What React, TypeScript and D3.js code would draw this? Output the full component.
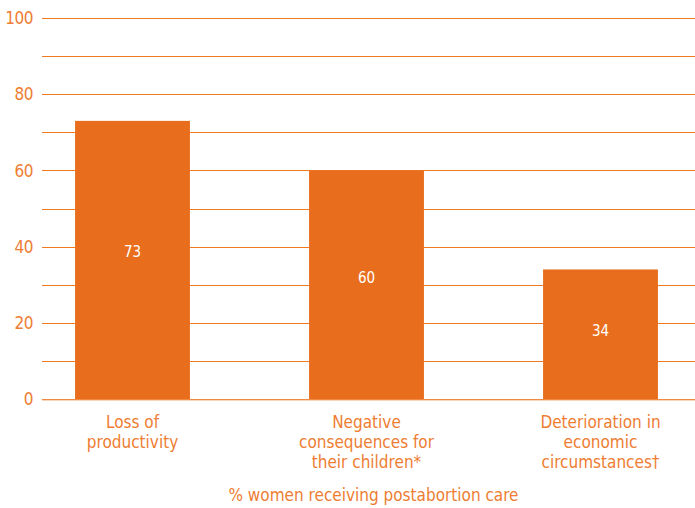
import { useEffect, useRef } from 'react';
import * as d3 from 'd3';

const categories = ['Loss of productivity', 'Negative consequences for their children*', 'Deterioration in economic circumstances†'];
const categoryLines = [
  ['Loss of', 'productivity'],
  ['Negative', 'consequences for', 'their children*'],
  ['Deterioration in', 'economic', 'circumstances†'],
];
const values = [73, 60, 34];
const tickValues = [0, 20, 40, 60, 80, 100];
const gridValues = d3.range(0, 101, 10);
const axisTitle = '% women receiving postabortion care';

const FONT = '"Liberation Sans Narrow", "DejaVu Sans Condensed", "Arial Narrow", sans-serif';
const BAR = '#e86e1e';
const TEXT = '#ee7d32';

const width = 695;
const height = 508;

const App = () => {
  const svgRef = useRef<SVGSVGElement>(null);

  useEffect(() => {
    if (!svgRef.current) return;
    const svg = d3.select(svgRef.current);
    svg.selectAll('*').remove();

    const left = 42;
    const y = d3.scaleLinear().domain([0, 100]).range([399, 18]);
    const x = d3.scaleBand<string>()
      .domain(categories)
      .range([15.5, 717.5])
      .paddingInner(0.509)
      .paddingOuter(0.2545);

    const g = svg.append('g');

    // grid lines
    g.selectAll('.grid')
      .data(gridValues.filter(v => v > 0))
      .enter()
      .append('line')
      .attr('x1', left)
      .attr('x2', width)
      .attr('y1', d => Math.round(y(d)) + 0.5)
      .attr('y2', d => Math.round(y(d)) + 0.5)
      .attr('stroke', '#f07a22')
      .attr('stroke-width', 1.2);

    // bars
    g.selectAll('.bar')
      .data(values)
      .enter()
      .append('rect')
      .attr('x', (d, i) => x(categories[i])!)
      .attr('y', d => y(d))
      .attr('width', x.bandwidth())
      .attr('height', d => y(0) - y(d))
      .attr('fill', BAR);

    // baseline: orange rule with a pale edge under it
    g.append('line')
      .attr('x1', left)
      .attr('x2', width)
      .attr('y1', y(0) + 0.5)
      .attr('y2', y(0) + 0.5)
      .attr('stroke', '#f08a42')
      .attr('stroke-width', 1);
    g.append('line')
      .attr('x1', left)
      .attr('x2', width)
      .attr('y1', y(0) + 1.5)
      .attr('y2', y(0) + 1.5)
      .attr('stroke', '#fad7bb')
      .attr('stroke-width', 1);

    // value labels
    g.selectAll('.val')
      .data(values)
      .enter()
      .append('text')
      .attr('x', (d, i) => x(categories[i])! + x.bandwidth() / 2)
      .attr('y', d => y(d * 0.53))
      .attr('dy', '0.36em')
      .attr('text-anchor', 'middle')
      .style('font-family', FONT)
      .style('font-size', '15px')
      .style('fill', '#ffffff')
      .text(d => d);

    // y tick labels
    g.selectAll('.tick')
      .data(tickValues)
      .enter()
      .append('text')
      .attr('x', 33)
      .attr('y', d => y(d))
      .attr('dy', '0.36em')
      .attr('text-anchor', 'end')
      .style('font-family', FONT)
      .style('font-size', '17px')
      .style('letter-spacing', '-0.5px')
      .style('fill', TEXT)
      .text(d => d);

    // category labels
    categoryLines.forEach((lines, i) => {
      const cx = x(categories[i])! + x.bandwidth() / 2;
      const t = g.append('text')
        .attr('text-anchor', 'middle')
        .style('font-family', FONT)
        .style('font-size', '17px')
        .style('fill', TEXT);
      lines.forEach((line, j) => {
        t.append('tspan')
          .attr('x', cx)
          .attr('y', 428 + j * 20)
          .text(line);
      });
    });

    // axis title
    g.append('text')
      .attr('x', x(categories[1])! + x.bandwidth() / 2 + 7)
      .attr('y', 501)
      .attr('text-anchor', 'middle')
      .style('font-family', FONT)
      .style('font-size', '17px')
      .style('fill', TEXT)
      .text(axisTitle);
  }, []);

  return (
    <svg
      ref={svgRef}
      width={width}
      height={height}
      style={{ position: 'absolute', left: 0, top: 0, background: '#fff' }}
    />
  );
};

export default App;
